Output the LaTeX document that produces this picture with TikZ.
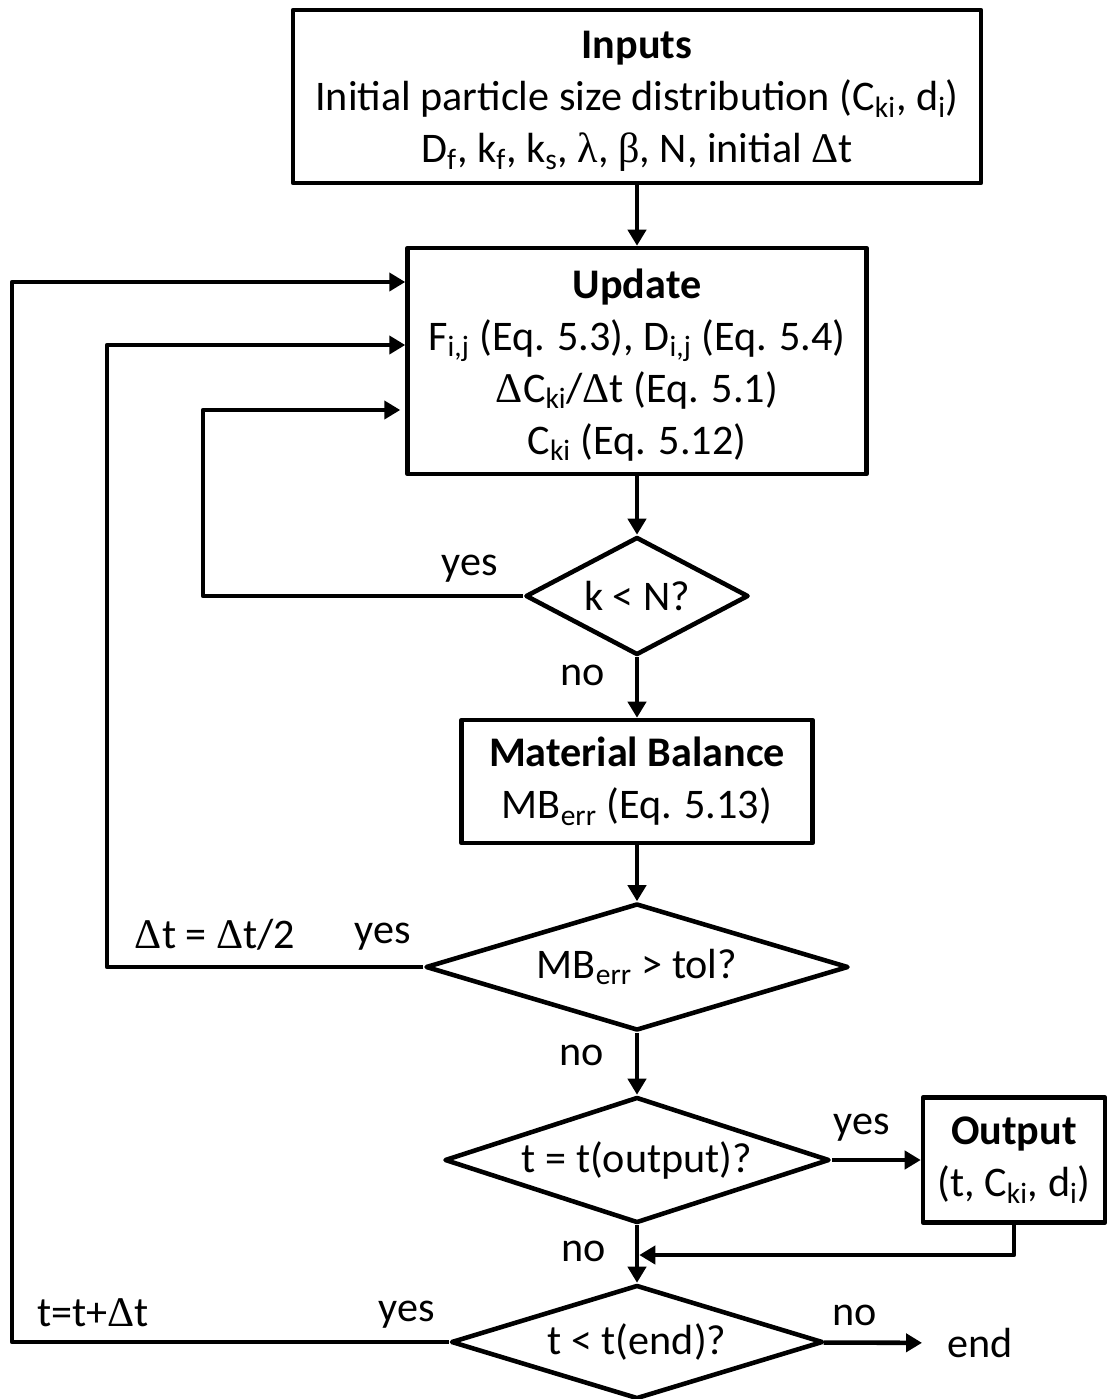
\documentclass[tikz,border=0pt]{standalone}
\usepackage{fontspec}
\setmainfont{Carlito}
\newfontfamily\grk{Liberation Serif}
\usetikzlibrary{shapes.geometric, arrows.meta, positioning}
\newcommand{\gD}{{\grk Δ}}
\newcommand{\gL}{{\grk λ}}
\newcommand{\gB}{{\grk β}}
\newcommand{\topgap}{\rule{0pt}{21pt}}
\tikzset{
  box/.style={draw, line width=2.6pt, line join=round, align=center, inner sep=0pt},
  decision/.style={draw, diamond, line width=2.6pt, line join=round, inner sep=0pt},
  flow/.style={line width=2.6pt, line join=round, -{Triangle[length=0.32cm, width=0.36cm]}},
  lbl/.style={inner sep=0pt}
}

\begin{document}
\begin{tikzpicture}[x=0.02cm, y=-0.02cm, font=\fontsize{24}{29.6}\selectfont]
    \useasboundingbox (0,0) rectangle (1113,1399);

    % Boxes
    \node[box, minimum width=13.76cm, minimum height=3.46cm] (inputs) at (637,96.5)
        {\topgap\textbf{Inputs}\\Initial particle size distribution (C\textsubscript{ki}, d\textsubscript{i})\\D\textsubscript{f}, k\textsubscript{f}, k\textsubscript{s}, \gL, \gB, N, initial \gD t};
    \node[box, minimum width=9.18cm, minimum height=4.52cm] (update) at (637,361)
        {\topgap\textbf{Update}\\F\textsubscript{i,j} (Eq. 5.3), D\textsubscript{i,j} (Eq. 5.4)\\\gD C\textsubscript{ki}/\gD t (Eq. 5.1)\\C\textsubscript{ki} (Eq. 5.12)};
    \node[box, minimum width=7.02cm, minimum height=2.46cm] (matbal) at (637,781.5)
        {\textbf{Material Balance}\\MB\textsubscript{err} (Eq. 5.13)};
    \node[box, minimum width=3.64cm, minimum height=2.5cm] (output) at (1014,1160)
        {\textbf{Output}\\(t, C\textsubscript{ki}, d\textsubscript{i})};

    % Decisions
    \node[decision, aspect=1.9, minimum width=4.46cm, minimum height=2.36cm] (kN) at (637,596) {k < N?};
    \node[decision, aspect=3.3, minimum width=8.46cm, minimum height=2.54cm] (mb) at (637,967) {MB\textsubscript{err} > tol?};
    \node[decision, aspect=3, minimum width=7.7cm, minimum height=2.52cm] (tout) at (637,1160) {t = t(output)?};
    \node[decision, aspect=3.2, minimum width=7.44cm, minimum height=2.28cm] (tend) at (637,1342) {t < t(end)?};
    \node[lbl] (finish) at (980,1343) {end};

    % Labels
    \node[lbl] at (470,569) {yes};
    \node[lbl] at (583,675) {no};
    \node[lbl] at (215,935) {\gD t = \gD t/2};
    \node[lbl] at (383,937) {yes};
    \node[lbl] at (582,1055) {no};
    \node[lbl] at (862,1128) {yes};
    \node[lbl] at (584,1251) {no};
    \node[lbl] at (93,1313) {t=t+\gD t};
    \node[lbl] at (407,1315) {yes};
    \node[lbl] at (855,1315) {no};

    % Main flow
    \draw[flow] (inputs) -- (update);
    \draw[flow] (update) -- (kN);
    \draw[flow] (kN) -- (matbal);
    \draw[flow] (matbal) -- (mb);
    \draw[flow] (mb) -- (tout);
    \draw[flow] (tout) -- (tend);
    \draw[flow] (tout) -- (output);
    \draw[flow, shorten >=0.5cm] (tend) -- (finish);

    % Loops back
    \coordinate (loopA) at (12,282);
    \coordinate (loopB) at (107,345);
    \coordinate (loopC) at (203,410);
    \draw[flow] (tend.west) -| (loopA) -- (loopA -| update.west);
    \draw[flow] (mb.west) -| (loopB) -- (loopB -| update.west);
    \draw[flow, shorten >=0.1cm] (kN.west) -| (loopC) -- (loopC -| update.west);

    \coordinate (merge) at (637,1255);
    \draw[flow, shorten >=1.3pt] (output.south) |- (merge);
\end{tikzpicture}
\end{document}
